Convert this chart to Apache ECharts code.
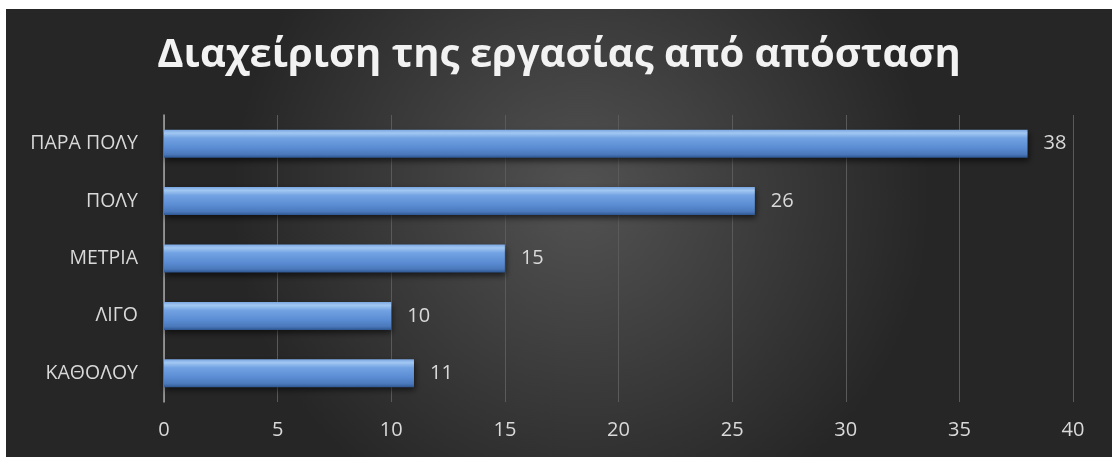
<!DOCTYPE html>
<html>
<head>
<meta charset="utf-8">
<script src="https://cdn.jsdelivr.net/npm/echarts@6/dist/echarts.min.js"></script>
<style>
  html, body { margin: 0; padding: 0; background: #ffffff; }
  #chart { position: absolute; left: 6px; top: 9px; width: 1106px; height: 448px; }
</style>
</head>
<body>
<div id="chart"></div>
<script>
// Categories listed bottom to top, as the category axis draws them
const categories = ['ΚΑΘΟΛΟΥ', 'ΛΙΓΟ', 'ΜΕΤΡΙΑ', 'ΠΟΛΥ', 'ΠΑΡΑ ΠΟΛΥ'];
const values = [11, 10, 15, 26, 38];
const xTicks = [0, 5, 10, 15, 20, 25, 30, 35, 40];
const titleText = 'Διαχείριση της εργασίας από απόσταση';

const chart = echarts.init(document.getElementById('chart'), null, { renderer: 'canvas' });

const labelColor = '#d9d9d9';
const font = '"Open Sans", "Noto Sans", sans-serif';

chart.setOption({
  backgroundColor: {
    type: 'radial', x: 0.52, y: 0.42, r: 0.78,
    colorStops: [
      { offset: 0, color: '#525252' },
      { offset: 1, color: '#262626' }
    ]
  },
  title: {
    text: titleText,
    left: 'center',
    top: 22,
    textStyle: {
      color: '#f2f2f2',
      fontFamily: font,
      fontWeight: 'bold',
      fontSize: 40
    }
  },
  grid: { left: 158, right: 39, top: 106, bottom: 55, containLabel: false },
  xAxis: {
    type: 'value',
    min: xTicks[0],
    max: xTicks[xTicks.length - 1],
    interval: 5,
    axisLine: { show: false },
    axisTick: { show: false },
    splitLine: { show: true, lineStyle: { color: '#5a5a5a', width: 1 } },
    axisLabel: {
      color: labelColor, fontFamily: font, fontSize: 20, margin: 18
    }
  },
  yAxis: {
    type: 'category',
    data: categories,
    axisLine: { show: true, lineStyle: { color: '#a6a6a6', width: 1.5 } },
    axisTick: { show: false },
    axisLabel: {
      color: labelColor, fontFamily: font, fontSize: 19.5, margin: 26
    }
  },
  series: [{
    type: 'bar',
    data: values,
    barWidth: 28,
    itemStyle: {
      color: {
        type: 'linear', x: 0, y: 0, x2: 0, y2: 1,
        colorStops: [
          { offset: 0, color: '#7aa6e2' },
          { offset: 0.12, color: '#a2c8f2' },
          { offset: 0.3, color: '#72a2e2' },
          { offset: 0.65, color: '#5a8cd3' },
          { offset: 0.88, color: '#4a78ba' },
          { offset: 1, color: '#2e5690' }
        ]
      },
      shadowColor: 'rgba(0,0,0,0.6)',
      shadowBlur: 6,
      shadowOffsetY: 3,
      shadowOffsetX: 1
    },
    label: {
      show: true,
      position: 'right',
      distance: 16,
      color: labelColor,
      fontFamily: font,
      fontSize: 20
    }
  }]
});
</script>
</body>
</html>
